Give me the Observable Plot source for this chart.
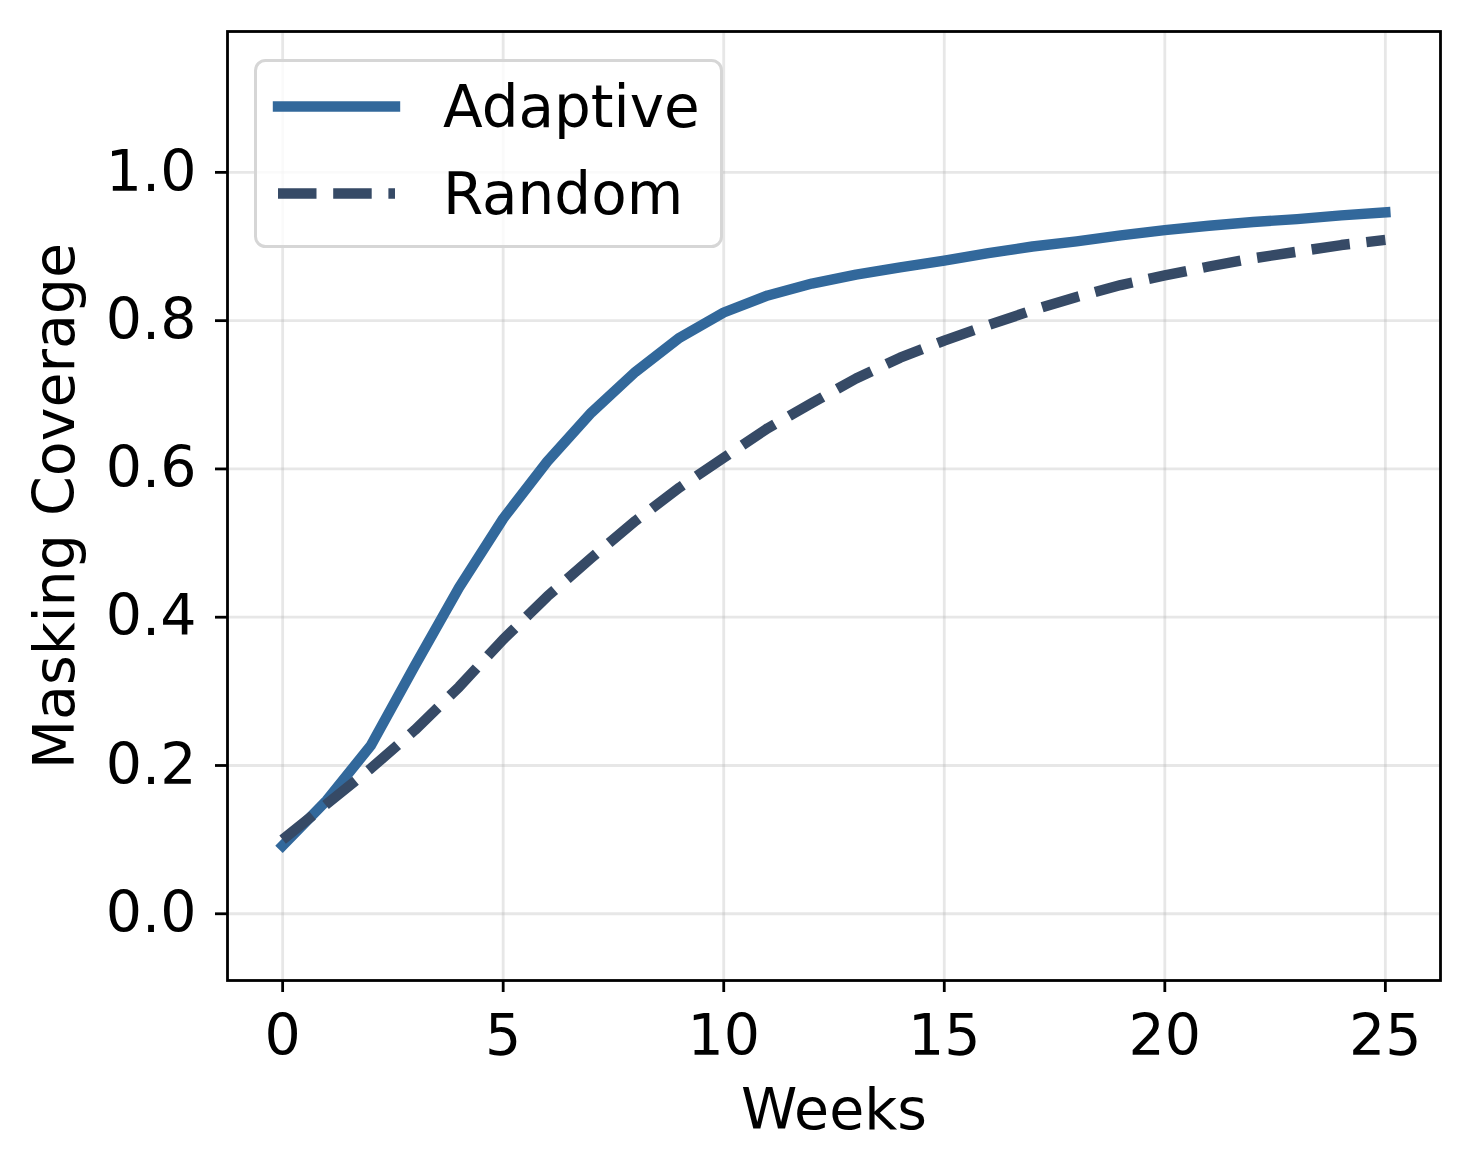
<!DOCTYPE html>
<html>
<head>
<meta charset="utf-8">
<script src="https://cdn.jsdelivr.net/npm/d3@7"></script>
<script src="https://cdn.jsdelivr.net/npm/@observablehq/plot@0.6"></script>
<style>
  html, body { margin: 0; padding: 0; background: white; }
  #wrap { position: relative; width: 1469px; height: 1170px; }
  #legend { position: absolute; left: 0; top: 0; pointer-events: none; }
</style>
</head>
<body>
<div id="wrap"></div>
<script>
const weeks = [0,1,2,3,4,5,6,7,8,9,10,11,12,13,14,15,16,17,18,19,20,21,22,23,24,25];
const adaptive = [0.092,0.153,0.227,0.335,0.440,0.533,0.610,0.676,0.731,0.777,0.811,0.834,0.850,0.862,0.872,0.881,0.891,0.900,0.907,0.915,0.922,0.928,0.933,0.937,0.942,0.946];
const random = [0.100,0.148,0.196,0.248,0.306,0.370,0.428,0.480,0.530,0.575,0.615,0.655,0.689,0.722,0.750,0.773,0.794,0.814,0.832,0.848,0.861,0.873,0.884,0.893,0.902,0.909];
const xTicks = [0,5,10,15,20,25];
const yTicks = [0.0,0.2,0.4,0.6,0.8,1.0];
const seriesNames = ["Adaptive","Random"];
const colors = {Adaptive: "#32689b", Random: "#364a66"};

const FS = 57;
const LW = 10.4;
const dash = "38.5,16.7";

const rowsA = weeks.map((w,i) => ({week: w, value: adaptive[i]}));
const rowsR = weeks.map((w,i) => ({week: w, value: random[i]}));

const chart = Plot.plot({
  width: 1469,
  height: 1170,
  marginLeft: 227,
  marginRight: 29,
  marginTop: 31,
  marginBottom: 190,
  style: {fontFamily: "DejaVu Sans", fontSize: FS + "px", color: "black", background: "white", overflow: "visible"},
  x: {domain: [-1.25, 26.25]},
  y: {domain: [-0.09, 1.19]},
  marks: [
    Plot.gridX(xTicks, {stroke: "#b0b0b0", strokeOpacity: 0.3, strokeWidth: 2.8}),
    Plot.gridY(yTicks, {stroke: "#b0b0b0", strokeOpacity: 0.3, strokeWidth: 2.8}),
    Plot.line(rowsA, {x: "week", y: "value", stroke: colors.Adaptive, strokeWidth: LW, strokeLinecap: "square", strokeLinejoin: "round"}),
    Plot.line(rowsR, {x: "week", y: "value", stroke: colors.Random, strokeWidth: LW, strokeDasharray: dash, strokeLinecap: "butt", strokeLinejoin: "round"}),
    Plot.frame({stroke: "black", strokeWidth: 2.8}),
    Plot.axisX(xTicks, {tickSize: 12, tickPadding: 22, strokeWidth: 2.8, fontSize: FS, label: null, tickFormat: d => String(d)}),
    Plot.axisY(yTicks, {tickSize: 12, tickPadding: 19, strokeWidth: 2.8, fontSize: FS, label: null, tickFormat: d3.format(".1f")}),
    Plot.text(["Weeks"], {frameAnchor: "bottom", lineAnchor: "bottom", dy: 148, fontSize: FS, fill: "black"}),
    Plot.text(["Masking Coverage"], {frameAnchor: "left", textAnchor: "middle", lineAnchor: "bottom", rotate: -90, dx: -154, fontSize: FS, fill: "black"})
  ]
});

const wrap = document.getElementById("wrap");
wrap.appendChild(chart);

// Legend overlay
const svgNS = "http://www.w3.org/2000/svg";
const leg = document.createElementNS(svgNS, "svg");
leg.setAttribute("id", "legend");
leg.setAttribute("width", 1469);
leg.setAttribute("height", 1170);
const rect = document.createElementNS(svgNS, "rect");
rect.setAttribute("x", 255.5); rect.setAttribute("y", 60.5);
rect.setAttribute("width", 466); rect.setAttribute("height", 186);
rect.setAttribute("rx", 10);
rect.setAttribute("fill", "rgba(255,255,255,0.8)");
rect.setAttribute("stroke", "#d6d6d6");
rect.setAttribute("stroke-width", 3);
leg.appendChild(rect);
const entries = [
  {name: seriesNames[0], y: 106.5, dash: null, cap: "square"},
  {name: seriesNames[1], y: 193.5, dash: dash, cap: "butt"}
];
for (const e of entries) {
  const ln = document.createElementNS(svgNS, "line");
  ln.setAttribute("x1", 278); ln.setAttribute("x2", 395);
  ln.setAttribute("y1", e.y); ln.setAttribute("y2", e.y);
  ln.setAttribute("stroke", colors[e.name]);
  ln.setAttribute("stroke-width", LW);
  ln.setAttribute("stroke-linecap", e.cap);
  if (e.dash) ln.setAttribute("stroke-dasharray", e.dash);
  leg.appendChild(ln);
  const tx = document.createElementNS(svgNS, "text");
  tx.setAttribute("x", 443); tx.setAttribute("y", e.y);
  tx.setAttribute("dy", "0.36em");
  tx.setAttribute("font-family", "DejaVu Sans");
  tx.setAttribute("font-size", 58);
  tx.setAttribute("fill", "black");
  tx.textContent = e.name;
  leg.appendChild(tx);
}
wrap.appendChild(leg);
</script>
</body>
</html>
